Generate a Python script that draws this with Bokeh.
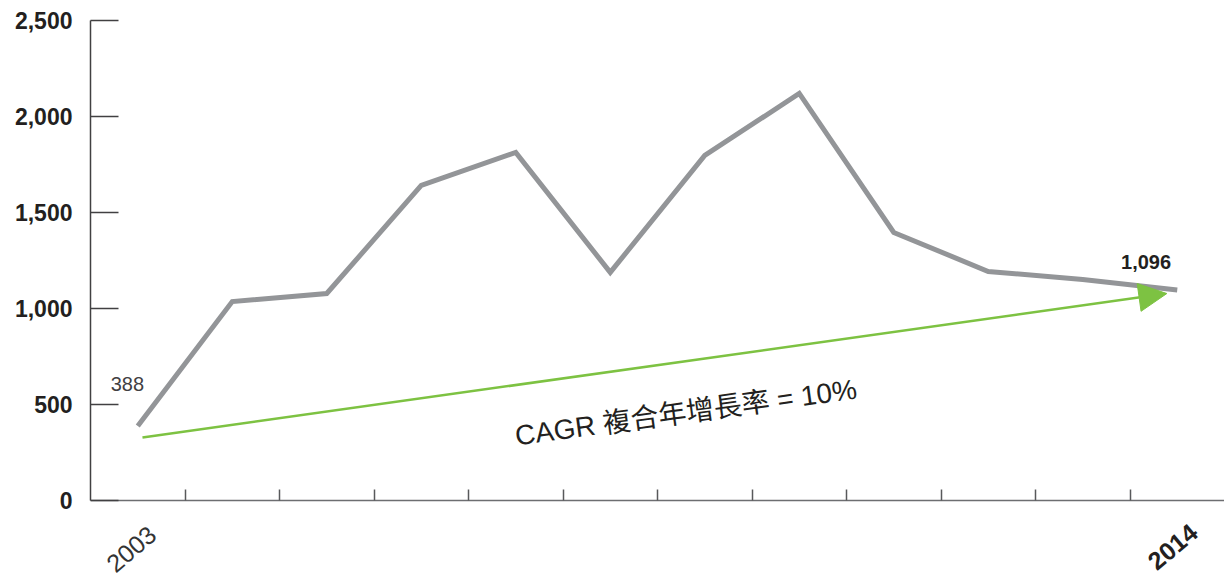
from bokeh.plotting import figure
from bokeh.models import (Range1d, FixedTicker, NumeralTickFormatter, Label,
                          Arrow, NormalHead, LinearAxis)
from bokeh.embed import file_html
from bokeh.resources import INLINE

# ---- data ----
years = [2003, 2004, 2005, 2006, 2007, 2008, 2009, 2010, 2011, 2012, 2013, 2014]
values = [388, 1036, 1078, 1641, 1813, 1188, 1797, 2120, 1396, 1193, 1151, 1096]
y_ticks = [0, 500, 1000, 1500, 2000, 2500]
x_label_years = [2003, 2014]
cagr_text = "CAGR 複合年增長率 = 10%"
cagr_arrow_x = [2003.05, 2013.89]
cagr_arrow_y = [328, 1078]

GRAY = "#939598"
GREEN = "#7dc242"
DARK = "#231f20"

p = figure(width=1224, height=579, output_backend="svg", toolbar_location=None,
           x_range=Range1d(years[0] - 0.5, years[-1] + 0.5),
           y_range=Range1d(-411.5, y_ticks[-1]),
           x_axis_location=None,
           min_border_left=90, min_border_right=0, min_border_top=20,
           min_border_bottom=0)
p.outline_line_color = None
p.grid.visible = False
p.background_fill_color = "white"
p.border_fill_color = "white"

# y axis
ya = p.yaxis[0]
ya.ticker = FixedTicker(ticks=y_ticks)
ya.bounds = (y_ticks[0], y_ticks[-1])
ya.formatter = NumeralTickFormatter(format="0,0")
ya.major_tick_in = 28
ya.major_tick_out = 0
ya.minor_tick_line_color = None
ya.major_tick_line_color = "#414042"
ya.major_tick_line_width = 1.5
ya.axis_line_color = "#414042"
ya.axis_line_width = 1.5
ya.major_label_text_font = "Liberation Sans"
ya.major_label_text_font_style = "bold"
ya.major_label_text_font_size = "23px"
ya.major_label_text_color = DARK
ya.major_label_standoff = 18

# x axis at y=0: ticks between categories, no labels
bnd = [y + 0.5 for y in years[:-1]]
xa = LinearAxis(fixed_location=0, ticker=FixedTicker(ticks=bnd),
                major_label_overrides={b: "" for b in bnd})
xa.major_tick_in = 11
xa.major_tick_out = 0
xa.minor_tick_line_color = None
xa.major_tick_line_color = "#58595b"
xa.major_tick_line_width = 1.5
xa.axis_line_color = "#6d6e71"
xa.axis_line_width = 1.5
xa.major_label_standoff = 0
p.add_layout(xa, "below")

# main line
p.line(years, values, line_color=GRAY, line_width=5, line_join="miter")

# CAGR arrow
p.add_layout(Arrow(end=NormalHead(size=28, fill_color=GREEN, line_color=GREEN, line_width=1),
                   x_start=cagr_arrow_x[0], y_start=cagr_arrow_y[0],
                   x_end=cagr_arrow_x[1], y_end=cagr_arrow_y[1],
                   line_color=GREEN, line_width=2.5))

p.add_layout(Label(x=2008.80, y=458, text=cagr_text, angle=0.137,
                   text_align="center", text_baseline="middle",
                   text_font="Liberation Sans, Noto Sans CJK TC", text_font_size="28px",
                   text_color=DARK))

# value labels
p.add_layout(Label(x=years[0] - 0.11, y=values[0] + 221, text=f"{values[0]:,}",
                   text_align="center", text_baseline="middle",
                   text_font="Liberation Sans", text_font_size="20px", text_color="#414042"))
p.add_layout(Label(x=years[-1] - 0.33, y=values[-1] + 144, text=f"{values[-1]:,}",
                   text_align="center", text_baseline="middle",
                   text_font="Liberation Sans", text_font_style="bold",
                   text_font_size="20px", text_color=DARK))

# year labels (rotated)
p.add_layout(Label(x=x_label_years[0] - 0.07, y=-252, text=str(x_label_years[0]),
                   angle=0.70, text_align="center", text_baseline="middle",
                   text_font="Liberation Sans", text_font_size="25px", text_color="#333333"))
p.add_layout(Label(x=x_label_years[1] - 0.05, y=-240, text=str(x_label_years[1]),
                   angle=0.70, text_align="center", text_baseline="middle",
                   text_font="Liberation Sans", text_font_style="bold",
                   text_font_size="25px", text_color=DARK))

open("out.html", "w").write(file_html(p, INLINE))
